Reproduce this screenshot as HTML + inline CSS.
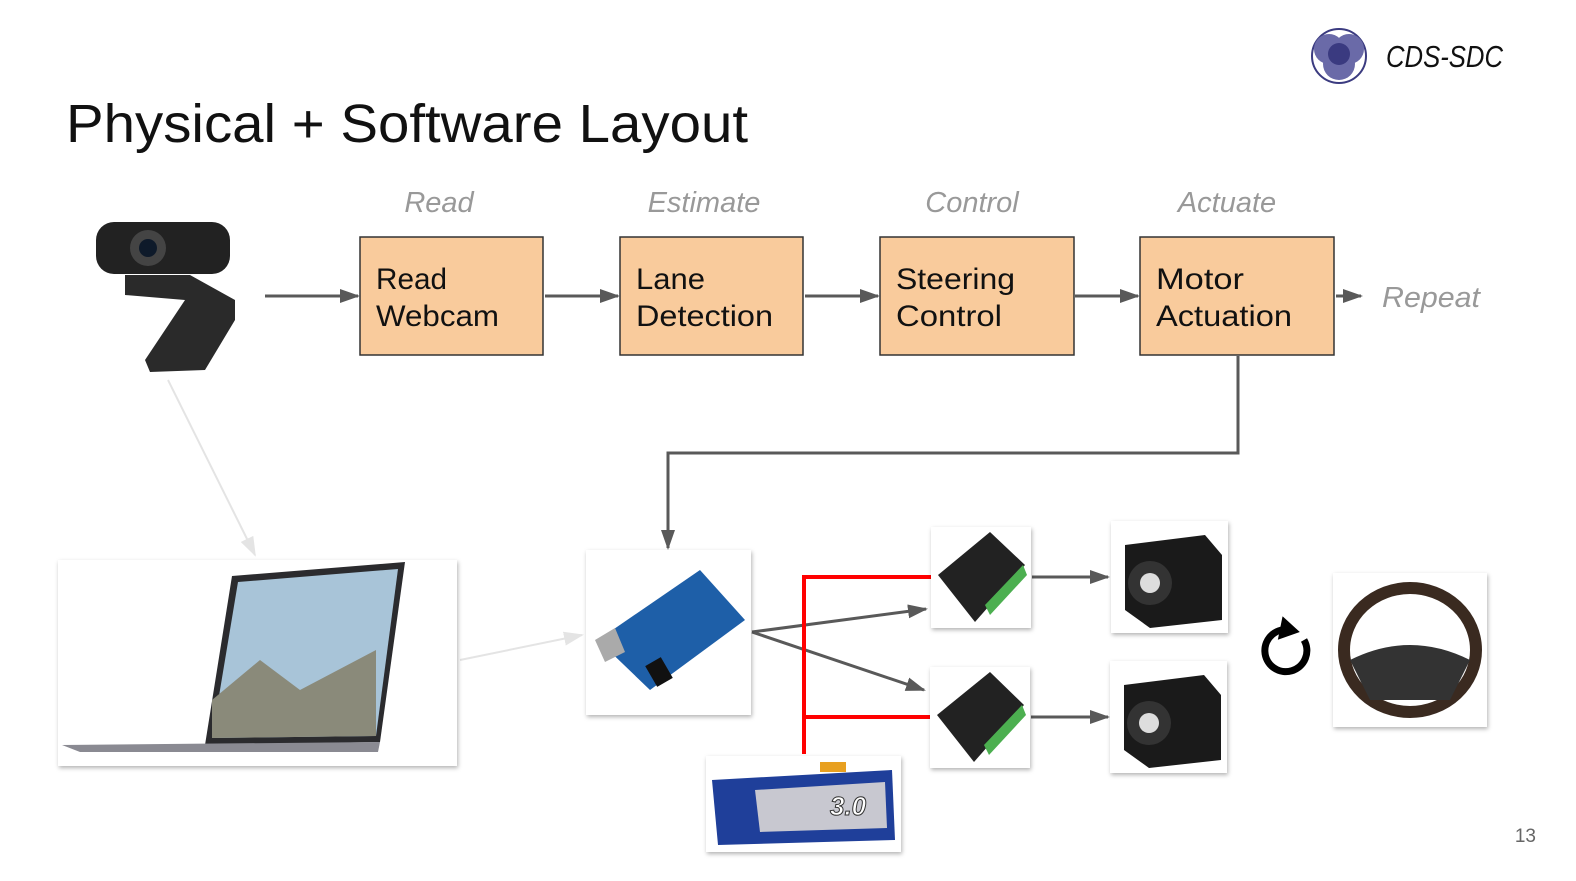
<!DOCTYPE html>
<html><head><meta charset="utf-8"><style>
body{margin:0;background:#fff;}
svg{display:block;font-family:"Liberation Sans",sans-serif;}
</style></head><body>
<svg width="1576" height="881" viewBox="0 0 1576 881" xmlns="http://www.w3.org/2000/svg">
<defs>
<marker id="ah2" markerWidth="20" markerHeight="14" refX="18" refY="7" orient="auto" markerUnits="userSpaceOnUse"><path d="M0,0 L20,7 L0,14 z" fill="#595959"/></marker>
<marker id="ahl" markerWidth="20" markerHeight="14" refX="18" refY="7" orient="auto" markerUnits="userSpaceOnUse"><path d="M0,0 L20,7 L0,14 z" fill="#e4e4e4"/></marker>
<marker id="ahb" markerWidth="24" markerHeight="24" refX="12" refY="12" orient="auto" markerUnits="userSpaceOnUse"><path d="M2,0 L22,12 L2,24 z" fill="#000"/></marker>
<filter id="sh" x="-10%" y="-10%" width="120%" height="120%"><feDropShadow dx="1" dy="2" stdDeviation="2" flood-color="#000" flood-opacity="0.3"/></filter>
</defs>

<circle cx="1339" cy="56" r="27" fill="#fff" stroke="#3b3b80" stroke-width="2"/>
<circle cx="1329" cy="49" r="15" fill="#6a6aa8"/>
<circle cx="1349" cy="49" r="15" fill="#6a6aa8"/>
<circle cx="1339" cy="64" r="16" fill="#6a6aa8"/>
<circle cx="1339" cy="54" r="11" fill="#3a3a80"/>
<text x="1386" y="67" font-size="31" font-style="italic" fill="#111" textLength="117" lengthAdjust="spacingAndGlyphs">CDS-SDC</text>

<text x="66" y="142" font-size="54" fill="#111" textLength="682" lengthAdjust="spacingAndGlyphs">Physical + Software Layout</text>

<g font-size="29" font-style="italic" fill="#999" text-anchor="middle">
<text x="439" y="212">Read</text><text x="704" y="212">Estimate</text>
<text x="972" y="212">Control</text><text x="1227" y="212">Actuate</text>
</g>
<text x="1382" y="307" font-size="29" font-style="italic" fill="#999" textLength="98" lengthAdjust="spacingAndGlyphs">Repeat</text>

<g fill="#f9cb9c" stroke="#333" stroke-width="1.5">
<rect x="360" y="237" width="183" height="118"/><rect x="620" y="237" width="183" height="118"/>
<rect x="880" y="237" width="194" height="118"/><rect x="1140" y="237" width="194" height="118"/>
</g>
<g font-size="30" fill="#111">
<text x="376" y="289" textLength="71" lengthAdjust="spacingAndGlyphs">Read</text><text x="376" y="326" textLength="123" lengthAdjust="spacingAndGlyphs">Webcam</text>
<text x="636" y="289" textLength="69" lengthAdjust="spacingAndGlyphs">Lane</text><text x="636" y="326" textLength="137" lengthAdjust="spacingAndGlyphs">Detection</text>
<text x="896" y="289" textLength="119" lengthAdjust="spacingAndGlyphs">Steering</text><text x="896" y="326" textLength="106" lengthAdjust="spacingAndGlyphs">Control</text>
<text x="1156" y="289" textLength="88" lengthAdjust="spacingAndGlyphs">Motor</text><text x="1156" y="326" textLength="136" lengthAdjust="spacingAndGlyphs">Actuation</text>
</g>

<g stroke="#595959" stroke-width="3" fill="none" marker-end="url(#ah2)">
<line x1="265" y1="296" x2="358" y2="296"/><line x1="545" y1="296" x2="618" y2="296"/>
<line x1="805" y1="296" x2="878" y2="296"/><line x1="1075" y1="296" x2="1138" y2="296"/>
<line x1="1336" y1="296" x2="1361" y2="296"/>
<polyline points="1238,356 1238,453 668,453 668,548"/>
<line x1="752" y1="632" x2="926" y2="609"/><line x1="752" y1="632" x2="924" y2="690"/>
<line x1="1032" y1="577" x2="1108" y2="577"/><line x1="1031" y1="717" x2="1108" y2="717"/>
</g>
<g stroke="#e4e4e4" stroke-width="2" marker-end="url(#ahl)">
<line x1="168" y1="380" x2="255" y2="555"/><line x1="460" y1="660" x2="582" y2="635"/>
</g>

<g stroke="#f00" stroke-width="4" fill="none">
<polyline points="931,577 804,577 804,754"/><line x1="804" y1="717" x2="931" y2="717"/>
</g>

<g>
<rect x="96" y="222" width="134" height="52" rx="18" fill="#222"/>
<circle cx="148" cy="248" r="18" fill="#444"/><circle cx="148" cy="248" r="9" fill="#0e1a2a"/>
<path d="M125 275 L190 275 L235 300 L235 320 L205 370 L150 372 L145 360 L185 300 L125 295z" fill="#2a2a2a"/>
</g>

<g fill="#fff" filter="url(#sh)">
<rect x="58" y="560" width="399" height="206"/>
<rect x="586" y="550" width="165" height="165"/>
<rect x="931" y="527" width="100" height="101"/>
<rect x="930" y="667" width="100" height="101"/>
<rect x="1111" y="521" width="117" height="112"/>
<rect x="1110" y="661" width="117" height="112"/>
<rect x="1333" y="573" width="154" height="154"/>
<rect x="706" y="756" width="195" height="96"/>
</g>

<path d="M232 576 L405 562 L380 742 L205 745z" fill="#2b2b2e"/>
<path d="M238 582 L398 569 L376 736 L212 738z" fill="#a8c4d8"/>
<path d="M212 700 L260 660 L300 690 L376 650 L376 736 L212 738z" fill="#8a8a7a"/>
<path d="M62 745 L380 742 L378 752 L80 752z" fill="#8a8a92"/>

<path d="M598 640 L700 570 L745 620 L650 690z" fill="#1e5fa8"/>
<path d="M595 640 L615 628 L625 652 L605 662z" fill="#aaa"/>
<rect x="650" y="660" width="18" height="24" fill="#111" transform="rotate(-30 659 672)"/>

<g fill="#222"><path d="M938 575 L990 532 L1025 565 L975 622z"/><path d="M937 715 L990 672 L1024 705 L974 762z"/></g>
<g fill="#4caf50"><path d="M985 605 L1023 565 L1027 575 L990 615z"/><path d="M984 745 L1022 705 L1026 715 L989 755z"/></g>

<g>
<path d="M1125 545 L1205 535 L1222 555 L1222 620 L1150 628 L1125 610z" fill="#1a1a1a"/>
<circle cx="1150" cy="583" r="22" fill="#333"/><circle cx="1150" cy="583" r="10" fill="#ddd"/>
<path d="M1124 685 L1204 675 L1221 695 L1221 760 L1149 768 L1124 750z" fill="#1a1a1a"/>
<circle cx="1149" cy="723" r="22" fill="#333"/><circle cx="1149" cy="723" r="10" fill="#ddd"/>
</g>

<path d="M1304 640 A21 21 0 1 1 1290 630" fill="none" stroke="#000" stroke-width="7" marker-end="url(#ahb)"/>

<ellipse cx="1410" cy="650" rx="66" ry="62" fill="none" stroke="#3a2a20" stroke-width="12"/>
<path d="M1350 660 Q1410 630 1470 660 L1450 700 L1370 700z" fill="#333"/>

<path d="M712 780 L892 770 L895 840 L718 845z" fill="#1f3f9a"/>
<path d="M755 790 L885 782 L887 828 L760 832z" fill="#c8c8d0"/>
<text x="830" y="815" font-size="26" font-weight="bold" font-style="italic" fill="#fff" stroke="#333" stroke-width="1">3.0</text>
<rect x="820" y="762" width="26" height="10" fill="#e8a020"/>

<text x="1536" y="842" font-size="19" fill="#666" text-anchor="end">13</text>
</svg>
</body></html>
